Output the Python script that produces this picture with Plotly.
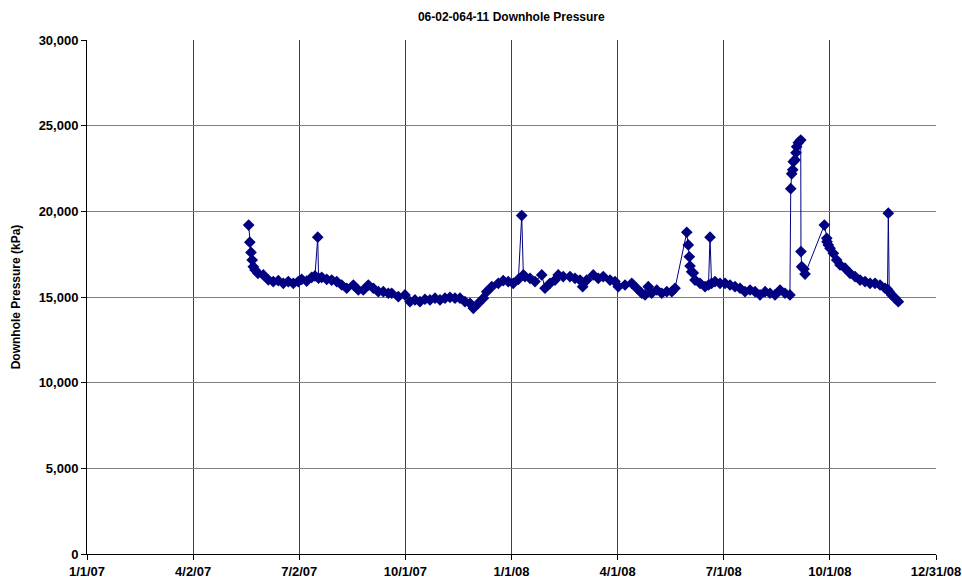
import pandas as pd
import plotly.graph_objects as go

# Days since 1/1/2007 for each reading
day_offsets = [
    139, 140, 141, 142, 143, 144.5, 147, 151.6, 155.9, 160.2, 164.5, 168.8, 173.1, 177.4, 181.7,
    184.6, 188.9, 193.2, 196.0, 198.4, 199.1, 201.8, 206.1, 210.4, 214.7, 219.0, 223.3, 229.0,
    233.3, 237.6, 241.9, 246.2, 250.5, 254.8, 259.1, 262.0, 267.7, 273.4, 277.7, 282.0, 286.3,
    290.6, 294.9, 299.2, 303.5, 307.8, 312.1, 316.4, 320.7, 325.0, 329.3, 332.2, 336.5, 340.8,
    343.7, 348.0, 353.7, 357.9, 362.2, 366.5, 370.9, 373.8, 375.2, 376.6, 380.9, 385.2, 391.0,
    393.8, 398.1, 402.4, 405.2, 409.5, 415.3, 419.6, 423.9, 426.2, 429.7, 435.3, 439.6, 443.9,
    449.7, 454.0, 456.8, 462.6, 468.4, 472.7, 477.0, 479.8, 482.6, 485.5, 489.9, 494.2, 498.5,
    502.8, 505.6, 515.7, 517.0, 517.9, 518.5, 519.9, 521.3, 522.8, 527.1, 531.4, 534.4, 535.7,
    537.0, 540.0, 544.3, 548.6, 552.9, 557.2, 561.5, 565.8, 570.1, 574.4, 578.7, 583.0, 587.3,
    591.6, 595.9, 600.2, 604.4, 605.1, 605.9, 606.8, 607.3, 608.8, 609.6, 610.2, 611.6, 613.7,
    613.9, 614.5, 616.5, 617.4, 634.0, 636.1, 636.3, 637.4, 638.9, 641.7, 644.6, 647.5, 651.8,
    656.1, 660.4, 664.7, 669.0, 673.3, 677.6, 681.9, 686.2, 688.3, 689.0, 689.8, 691.9, 694.8,
    697.6,
]

# Downhole pressure, kPa
pressure_kpa = [
    19200, 18200, 17600, 17160, 16770, 16580, 16380, 16290, 16000, 15900, 15950, 15800, 15900,
    15800, 15900, 16030, 15930, 16150, 16230, 18490, 16100, 16150, 16030, 15990, 15900, 15700,
    15510, 15700, 15410, 15410, 15700, 15510, 15310, 15310, 15220, 15220, 15020, 15120, 14730,
    14830, 14730, 14870, 14830, 14930, 14830, 14930, 14980, 14930, 14930, 14730, 14630, 14340,
    14630, 14930, 15310, 15600, 15800, 15950, 15900, 15800, 16030, 19750, 16290, 16190, 16090,
    15900, 16290, 15510, 15800, 15990, 16290, 16190, 16190, 16090, 15990, 15600, 15990, 16290,
    16090, 16190, 15990, 15900, 15600, 15700, 15800, 15510, 15220, 15120, 15600, 15220, 15410,
    15220, 15310, 15310, 15510, 18780, 18040, 17350, 16810, 16480, 16400, 15990, 15800, 15600,
    15700, 18490, 15800, 15900, 15800, 15800, 15700, 15600, 15510, 15310, 15410, 15310, 15120,
    15310, 15220, 15120, 15410, 15220, 15120, 21320, 22190, 22420, 22900, 23000, 23420, 23770,
    24010, 24160, 17650, 16770, 16630, 16340, 19200, 18430, 18230, 18040, 17840, 17550, 17160,
    16870, 16680, 16380, 16190, 15990, 15900, 15800, 15800, 15700, 15510, 15450, 19890, 15310,
    15120, 14930, 14730,
]

# Category axis ticks (Excel-style 91.25-day major unit)
tick_day_offsets = [0, 91.25, 182.5, 273.75, 365, 456.25, 547.5, 638.75, 730]
tick_labels = ["1/1/07", "4/2/07", "7/2/07", "10/1/07", "1/1/08", "4/1/08", "7/1/08", "10/1/08", "12/31/08"]

origin = pd.Timestamp("2007-01-01")
dates = origin + pd.to_timedelta(day_offsets, unit="D")
tick_vals = origin + pd.to_timedelta(tick_day_offsets, unit="D")

fig = go.Figure()
fig.add_trace(go.Scatter(
    x=dates, y=pressure_kpa, mode="lines+markers",
    line=dict(color="#000080", width=1),
    marker=dict(symbol="diamond", size=9, color="#000080", line=dict(width=0)),
    showlegend=False,
))

font_family = "Liberation Sans, Arial, sans-serif"
fig.update_layout(
    width=962, height=585,
    margin=dict(l=87, r=26, t=40, b=31, autoexpand=False),
    paper_bgcolor="white", plot_bgcolor="white",
    title=dict(text="06-02-064-11 Downhole Pressure", x=0.5315, xanchor="center",
               y=0.971, yanchor="middle",
               font=dict(family=font_family, size=12, color="black", weight="bold")),
    font=dict(family=font_family, color="black"),
)
fig.update_xaxes(
    automargin=False,
    range=[origin, origin + pd.Timedelta(days=730)],
    tickmode="array", tickvals=tick_vals, ticktext=tick_labels,
    tickfont=dict(size=13, family=font_family, color="black", weight="bold"),
    showgrid=True, gridcolor="#404040", gridwidth=1,
    showline=True, linecolor="black", linewidth=1,
    ticks="outside", ticklen=5, tickcolor="black",
    zeroline=False,
)
fig.update_yaxes(
    automargin=False,
    range=[0, 30000], dtick=5000, tickformat=",",
    tickfont=dict(size=13, family=font_family, color="black", weight="bold"),
    title=dict(text="Downhole Pressure (kPa)",
               font=dict(size=12, family=font_family, color="black", weight="bold")),
    showgrid=True, gridcolor="#808080", gridwidth=1,
    showline=True, linecolor="black", linewidth=1,
    ticks="outside", ticklen=5, tickcolor="black",
    zeroline=False,
)
fig.write_html(
    "out.html",
    config={"displayModeBar": False},
    post_script="document.body.style.margin='0';document.body.style.overflow='hidden';",
)
